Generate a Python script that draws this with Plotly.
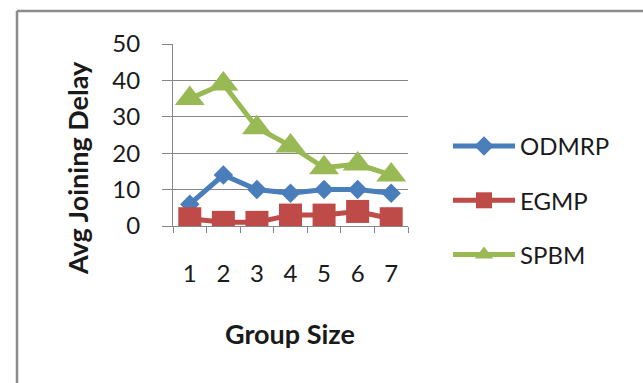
import plotly.graph_objects as go

# Average joining delay per group size for three multicast protocols
group_sizes = ["1", "2", "3", "4", "5", "6", "7"]
odmrp = [6, 14, 10, 9, 10, 10, 9]
egmp = [2, 1, 1, 3, 3, 4, 2]
spbm = [35, 39, 27, 22, 16, 17, 14]

y_ticks = [0, 10, 20, 30, 40, 50]

FONT = "Lato"
GRAY = "#868686"
TEXT = "#1a1a1a"

W, H = 643, 383
L, R, T, B = 173, 235, 44, 157
PW, PH = W - L - R, H - T - B


def px(x):
    return (x - L) / PW


def py(y):
    return 1 - (y - T) / PH


series = [
    ("ODMRP", odmrp, "#4A7EBB", "diamond", 15),
    ("EGMP", egmp, "#BE4B48", "square", 23),
    ("SPBM", spbm, "#98B954", "triangle-up", 26),
]

fig = go.Figure()
for name, vals, color, symbol, size in series:
    fig.add_trace(go.Scatter(
        x=group_sizes, y=vals, name=name, legendgroup=name,
        mode="lines+markers",
        line=dict(color=color, width=5),
        marker=dict(symbol=symbol, size=size, color=color, line=dict(width=0)),
    ))

fig.update_layout(
    width=W, height=H,
    margin=dict(l=L, r=R, t=T, b=B, pad=0),
    paper_bgcolor="white", plot_bgcolor="white",
    font=dict(family=FONT, size=22, color=TEXT),
    showlegend=True,
    legend=dict(
        x=px(448), y=py(124), xanchor="left", yanchor="top",
        font=dict(family=FONT, size=24, color=TEXT),
        tracegroupgap=20, itemwidth=62,
        bgcolor="rgba(0,0,0,0)",
    ),
    xaxis=dict(
        type="category", categoryorder="array", categoryarray=group_sizes,
        range=[-0.5, 6.5],
        showgrid=False, zeroline=False,
        showline=True, linecolor=GRAY, linewidth=1,
        ticks="outside", tickson="boundaries", ticklen=6, tickcolor=GRAY,
        tickfont=dict(family=FONT, size=24, color=TEXT),
        ticklabelstandoff=26,
    ),
    yaxis=dict(
        range=[0, 50], tickvals=y_ticks,
        showgrid=True, gridcolor=GRAY, gridwidth=1,
        zeroline=False,
        showline=True, linecolor=GRAY, linewidth=1,
        ticks="outside", ticklen=10, tickcolor=GRAY,
        tickfont=dict(family=FONT, size=24, color=TEXT),
        ticklabelstandoff=17,
    ),
    annotations=[
        dict(text="<b>Avg Joining Delay</b>", textangle=-90,
             xref="paper", yref="paper", x=px(77), y=py(168),
             xanchor="center", yanchor="middle", showarrow=False,
             font=dict(family=FONT, size=27, color=TEXT)),
        dict(text="<b>Group Size</b>",
             xref="paper", yref="paper", x=px(290), y=py(333),
             xanchor="center", yanchor="middle", showarrow=False,
             font=dict(family=FONT, size=27, color=TEXT)),
    ],
    shapes=[
        # chart frame (top and left edges)
        dict(type="line", xref="paper", yref="paper",
             x0=px(17), x1=px(700), y0=py(11), y1=py(11),
             line=dict(color="#8c8c8c", width=2.5)),
        dict(type="line", xref="paper", yref="paper",
             x0=px(17), x1=px(17), y0=py(11), y1=py(420),
             line=dict(color="#8c8c8c", width=2.5)),
    ],
)

fig.write_html("out.html")
